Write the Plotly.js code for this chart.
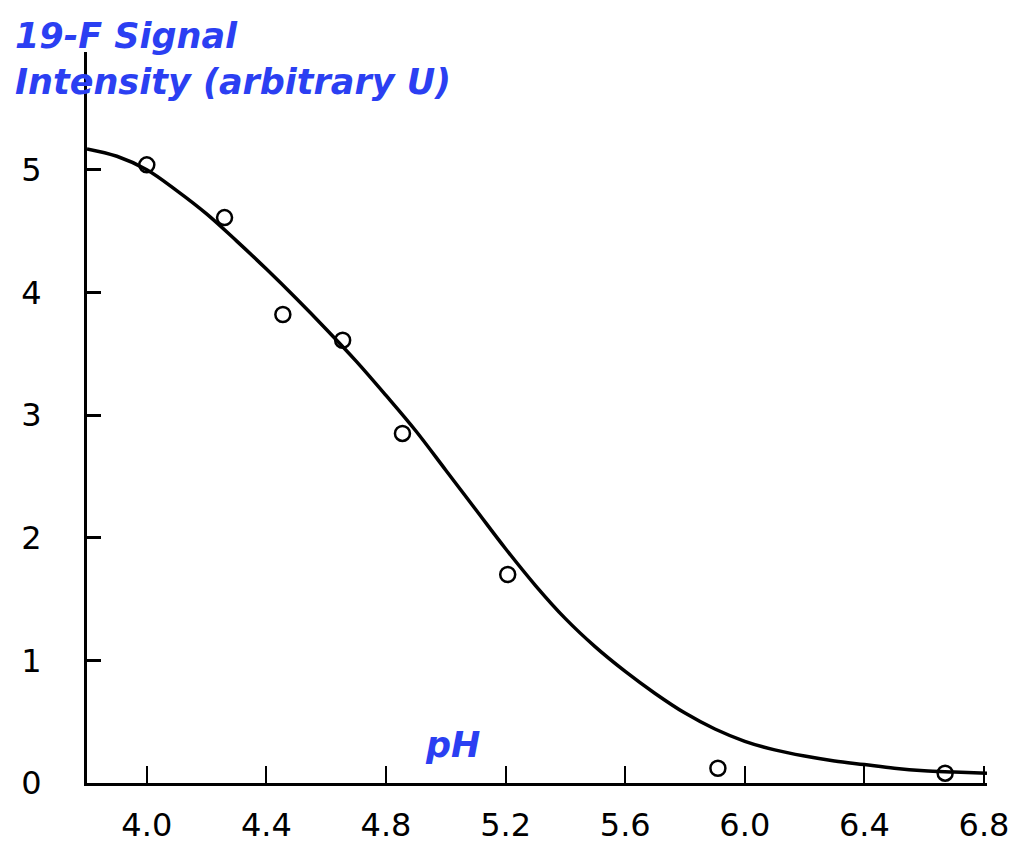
<!DOCTYPE html>
<html>
<head>
<meta charset="utf-8">
<script src="https://cdn.plot.ly/plotly-3.0.1.min.js"></script>
<style>html,body{margin:0;padding:0;background:#fff;}#chart{width:1023px;height:844px;}</style>
</head>
<body>
<div id="chart"></div>
<script>
// Measured data points (open circles)
const pointPH = [4.00, 4.26, 4.455, 4.655, 4.855, 5.207, 5.91, 6.67];
const pointSignal = [5.04, 4.61, 3.82, 3.61, 2.85, 1.70, 0.12, 0.08];

// Fitted curve
const curvePH = [3.80, 3.90, 4.00, 4.10, 4.20, 4.30, 4.40, 4.50, 4.60, 4.70, 4.80, 4.90, 5.00, 5.10, 5.20, 5.30, 5.40, 5.50, 5.60, 5.70, 5.80, 5.90, 6.00, 6.10, 6.20, 6.30, 6.40, 6.50, 6.60, 6.70, 6.81];
const curveSignal = [5.17, 5.11, 5.00, 4.83, 4.64, 4.42, 4.19, 3.95, 3.70, 3.44, 3.16, 2.87, 2.55, 2.23, 1.91, 1.61, 1.34, 1.11, 0.91, 0.73, 0.57, 0.44, 0.34, 0.27, 0.22, 0.18, 0.15, 0.12, 0.10, 0.09, 0.08];

// Axis ticks
const xTickVals = [4.0, 4.4, 4.8, 5.2, 5.6, 6.0, 6.4, 6.8];
const xTickText = ["4.0", "4.4", "4.8", "5.2", "5.6", "6.0", "6.4", "6.8"];
const yTickVals = [0, 1, 2, 3, 4, 5];
const yTickText = ["0", "1", "2", "3", "4", "5"];

const titleLines = ["19-F Signal", "Intensity (arbitrary U)"];
const xLabel = "pH";

const blue = "#2b3ff2";
const labelFont = {family: "DejaVu Sans", size: 35, color: blue, weight: "bold", style: "italic"};

const traces = [
  {
    x: curvePH, y: curveSignal, type: "scatter", mode: "lines",
    line: {color: "#000", width: 3.5, shape: "spline", smoothing: 1},
    hoverinfo: "skip", showlegend: false
  },
  {
    x: pointPH, y: pointSignal, type: "scatter", mode: "markers",
    marker: {symbol: "circle-open", size: 15, color: "#000", line: {width: 2.5, color: "#000"}},
    showlegend: false
  }
];

const layout = {
  width: 1023, height: 844,
  margin: {l: 87, r: 36, t: 52, b: 61},
  paper_bgcolor: "#fff", plot_bgcolor: "#fff",
  showlegend: false,
  xaxis: {
    range: [3.8, 6.81], showgrid: false, zeroline: false,
    showline: true, linecolor: "#000", linewidth: 3,
    ticks: "inside", ticklen: 17, tickwidth: 2, tickcolor: "#000",
    tickvals: xTickVals, ticktext: xTickText,
    tickfont: {family: "DejaVu Sans", size: 32, color: "#000"},
    ticklabelstandoff: 12
  },
  yaxis: {
    range: [0, 5.96], showgrid: false, zeroline: false,
    showline: true, linecolor: "#000", linewidth: 3,
    ticks: "inside", ticklen: 14, tickwidth: 3, tickcolor: "#000",
    tickvals: yTickVals, ticktext: yTickText,
    tickfont: {family: "DejaVu Sans", size: 32, color: "#000"},
    ticklabelstandoff: 36
  },
  annotations: [
    {
      text: titleLines.join("<br>"), xref: "paper", yref: "paper",
      x: (13 - 87) / 900, y: 1 + 38 / 731,
      xanchor: "left", yanchor: "top", align: "left", showarrow: false,
      font: labelFont
    },
    {
      text: xLabel, xref: "paper", yref: "paper",
      x: (452 - 87) / 900, y: (783 - 745) / 731,
      xanchor: "center", yanchor: "middle", showarrow: false,
      font: labelFont
    }
  ]
};

Plotly.newPlot("chart", traces, layout, {displayModeBar: false, staticPlot: true});
</script>
</body>
</html>
